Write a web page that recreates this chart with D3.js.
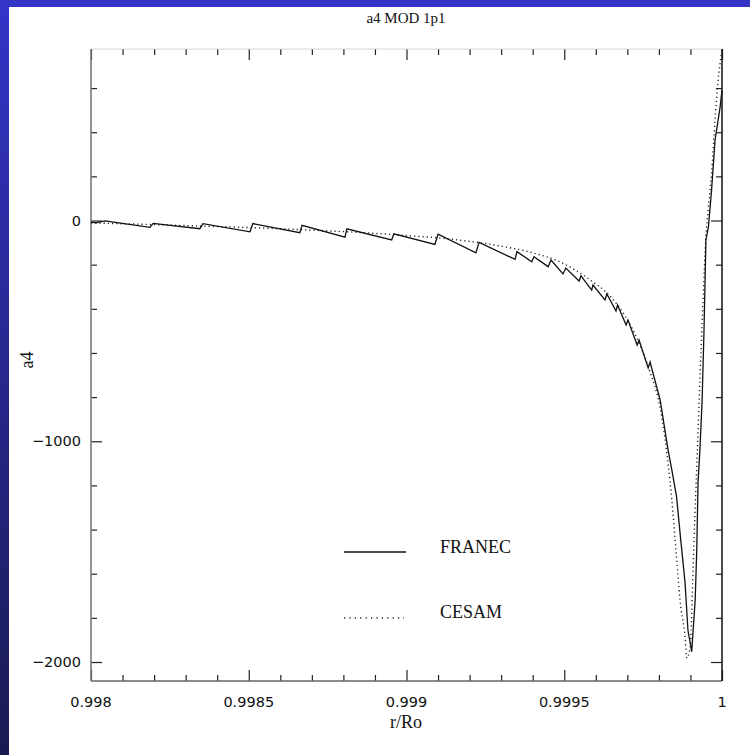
<!DOCTYPE html>
<html lang="en">
<head>
  <meta charset="UTF-8">
  <title>a4 MOD 1p1</title>
  <script src="https://d3js.org/d3.v7.min.js"></script>
  <style>
    body { margin: 0; background: #fff; }
    svg { display: block; }
    .ticklab { font-family: "DejaVu Sans", sans-serif; font-size: 14.5px; fill: #111; }
    .serif { font-family: "Liberation Serif", serif; fill: #111; }
  </style>
</head>
<body>
  <svg width="750" height="755"></svg>

  <script>
    // FRANEC curve (solid)
    const franecR = [0.998000, 0.998016, 0.998044, 0.998187, 0.998197, 0.998345, 0.998355, 0.998504, 0.998513,
      0.998662, 0.998669, 0.998805, 0.998811, 0.998953, 0.998960, 0.999090, 0.999100, 0.999220, 0.999230,
      0.999344, 0.999350, 0.999397, 0.999404, 0.999449, 0.999458, 0.999496, 0.999505, 0.999547, 0.999553,
      0.999587, 0.999591, 0.999629, 0.999635, 0.999664, 0.999669, 0.999696, 0.999702, 0.999731, 0.999737,
      0.999766, 0.999772, 0.999804, 0.999829, 0.999841, 0.999856, 0.999867, 0.999883, 0.999892, 0.999904,
      0.999915, 0.999920, 0.999924, 0.999930, 0.999937, 0.999943, 0.999949, 0.999957, 0.999967, 0.999978,
      0.999994, 1.000000];
    const franecA4 = [-7, -11, -2, -31, -13, -37, -14, -51, -14,
      -55, -22, -75, -38, -88, -60, -108, -62, -146, -99,
      -176, -141, -187, -164, -209, -179, -242, -215, -274, -251,
      -315, -292, -360, -333, -410, -383, -473, -451, -564, -541,
      -668, -641, -813, -1039, -1130, -1251, -1415, -1642, -1855, -1953,
      -1719, -1492, -1189, -1039, -813, -496, -88, -29, 138, 365,
      514, 591];

    // CESAM curve (dotted)
    const cesamR = [0.998000, 0.998187, 0.998345, 0.998504, 0.998662, 0.998821, 0.998979, 0.999138, 0.999296,
      0.999391, 0.999487, 0.999582, 0.999645, 0.999693, 0.999740, 0.999772, 0.999804, 0.999819, 0.999841,
      0.999854, 0.999867, 0.999883, 0.999889, 0.999899, 0.999907, 0.999912, 0.999920, 0.999930, 0.999940,
      0.999949, 0.999957, 0.999967, 0.999978, 0.999987, 1.000000];
    const cesamA4 = [-11, -18, -25, -32, -41, -52, -66, -84, -115,
      -143, -188, -269, -342, -433, -564, -686, -849, -985, -1266,
      -1492, -1719, -1886, -1982, -1932, -1642, -1415, -1116, -722, -360,
      -75, 61, 215, 455, 623, 772];

    const xTicks = [0.998, 0.9985, 0.999, 0.9995, 1];
    const xTickLabels = ["0.998", "0.9985", "0.999", "0.9995", "1"];
    const yTicks = [0, -1000, -2000];
    const yTickLabels = ["0", "\u22121000", "\u22122000"];
    const seriesNames = ["FRANEC", "CESAM"];

    const svg = d3.select("svg");
    const x0 = 91, x1 = 722, y0 = 49, y1 = 681;

    // slide background: blue strips on top and left
    const grad = svg.append("defs").append("linearGradient")
      .attr("id", "blue").attr("x1", 0).attr("y1", 0).attr("x2", 0).attr("y2", 1);
    grad.append("stop").attr("offset", "0%").attr("stop-color", "#3434c8");
    grad.append("stop").attr("offset", "100%").attr("stop-color", "#1a1a52");
    svg.append("rect").attr("x", 0).attr("y", 0).attr("width", 9).attr("height", 755).attr("fill", "url(#blue)");
    svg.append("rect").attr("x", 0).attr("y", 0).attr("width", 750).attr("height", 7).attr("fill", "#3434c6");

    const x = d3.scaleLinear().domain([0.998, 1]).range([x0, x1]);
    const y = d3.scaleLinear().domain([-2086, 777]).range([y1, y0]);

    const xMinor = d3.range(1, 20).map(i => 0.998 + i * 0.0001).filter(v => Math.abs(v * 2000 - Math.round(v * 2000)) > 1e-6);
    const yMinor = d3.range(-1800, 800, 200).filter(v => v % 1000 !== 0);

    // ticks on all four sides, pointing inward
    const addAxis = (axisFn, scale, vals, size, transform) => {
      const g = svg.append("g").attr("transform", transform)
        .call(axisFn(scale).tickValues(vals).tickSize(size).tickSizeOuter(0).tickFormat(""));
      g.select(".domain").remove();
      g.selectAll(".tick line").attr("stroke", "#222").attr("stroke-width", 1.2);
      return g;
    };
    addAxis(d3.axisBottom, x, xTicks, -11, `translate(0,${y1})`);
    addAxis(d3.axisBottom, x, xMinor, -6, `translate(0,${y1})`);
    addAxis(d3.axisTop, x, xTicks, -11, `translate(0,${y0})`);
    addAxis(d3.axisTop, x, xMinor, -6, `translate(0,${y0})`);
    addAxis(d3.axisLeft, y, yTicks, -11, `translate(${x0},0)`);
    addAxis(d3.axisLeft, y, yMinor, -6, `translate(${x0},0)`);
    addAxis(d3.axisRight, y, yTicks, -11, `translate(${x1},0)`);
    addAxis(d3.axisRight, y, yMinor, -6, `translate(${x1},0)`);

    // frame
    svg.append("line").attr("x1", x0).attr("x2", x1).attr("y1", y0).attr("y2", y0).attr("stroke", "#d4d4d4");
    svg.append("line").attr("x1", x0).attr("x2", x1).attr("y1", y1).attr("y2", y1).attr("stroke", "#666").attr("stroke-width", 1.3);
    svg.append("line").attr("x1", x0).attr("x2", x0).attr("y1", y0).attr("y2", y1).attr("stroke", "#777").attr("stroke-width", 1.6);
    svg.append("line").attr("x1", x1).attr("x2", x1).attr("y1", y0).attr("y2", y1).attr("stroke", "#111").attr("stroke-width", 1.5);

    // tick labels
    svg.append("g").selectAll("text").data(xTicks).join("text")
      .attr("class", "ticklab").attr("x", d => x(d)).attr("y", 707)
      .attr("text-anchor", "middle").text((d, i) => xTickLabels[i]);
    svg.append("g").selectAll("text").data(yTicks).join("text")
      .attr("class", "ticklab").attr("x", 81).attr("y", d => y(d) + 5)
      .attr("text-anchor", "end").text((d, i) => yTickLabels[i]);

    // titles
    svg.append("text").attr("class", "serif").attr("x", 406).attr("y", 23)
      .attr("text-anchor", "middle").style("font-size", "15px").text("a4 MOD 1p1");
    svg.append("text").attr("class", "serif").attr("x", 406).attr("y", 728)
      .attr("text-anchor", "middle").style("font-size", "18px").text("r/Ro");
    svg.append("text").attr("class", "serif").attr("transform", "translate(33,360) rotate(-90)")
      .attr("text-anchor", "middle").style("font-size", "18px").text("a4");

    // curves
    const franec = franecR.map((r, i) => [r, franecA4[i]]);
    const cesam = cesamR.map((r, i) => [r, cesamA4[i]]);
    const lineLin = d3.line().x(d => x(d[0])).y(d => y(d[1]));
    const lineSmooth = d3.line().x(d => x(d[0])).y(d => y(d[1])).curve(d3.curveMonotoneX);

    svg.append("path").datum(cesam).attr("d", lineSmooth)
      .attr("fill", "none").attr("stroke", "#222").attr("stroke-width", 1.4).attr("stroke-dasharray", "1.2,3");
    svg.append("path").datum(franec).attr("d", lineLin)
      .attr("fill", "none").attr("stroke", "#111").attr("stroke-width", 1.3);

    // legend
    const legend = svg.append("g");
    legend.append("line").attr("x1", 344).attr("x2", 406).attr("y1", 552).attr("y2", 552)
      .attr("stroke", "#111").attr("stroke-width", 1.4);
    legend.append("line").attr("x1", 344).attr("x2", 404).attr("y1", 618).attr("y2", 618)
      .attr("stroke", "#222").attr("stroke-width", 1.4).attr("stroke-dasharray", "1.2,4.2");
    legend.selectAll("text").data(seriesNames).join("text")
      .attr("class", "serif").attr("x", 440).attr("y", (d, i) => i === 0 ? 553 : 618)
      .style("font-size", "18px").text(d => d);
  </script>
</body>
</html>
